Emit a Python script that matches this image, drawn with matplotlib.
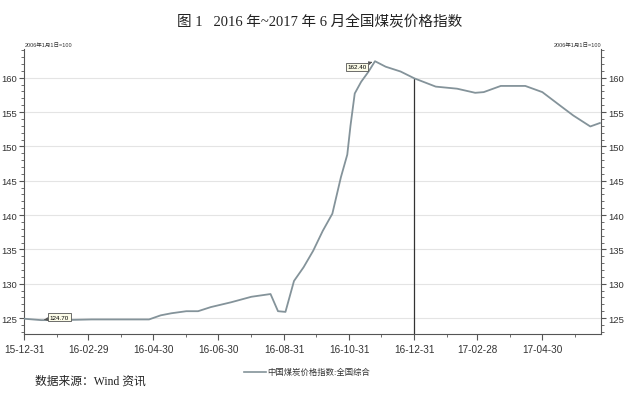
import matplotlib.pyplot as plt
import matplotlib.dates as mdates
from matplotlib.ticker import MultipleLocator
import pandas as pd

plt.rcParams['font.family'] = ['Liberation Sans', 'Noto Sans CJK SC']

# 中国煤炭价格指数:全国综合 (2006年1月1日=100), values
dates = ['2015-12-31', '2016-01-16', '2016-02-04', '2016-03-03', '2016-03-31',
         '2016-04-26', '2016-05-07', '2016-05-17', '2016-05-31', '2016-06-11',
         '2016-06-23', '2016-07-12', '2016-07-31', '2016-08-18', '2016-08-25',
         '2016-09-01', '2016-09-09', '2016-09-18', '2016-09-27', '2016-10-06',
         '2016-10-15', '2016-10-23', '2016-10-29', '2016-11-01', '2016-11-05',
         '2016-11-11', '2016-11-18', '2016-11-24', '2016-12-04', '2016-12-18',
         '2016-12-31', '2017-01-20', '2017-02-09', '2017-02-26', '2017-03-06',
         '2017-03-22', '2017-04-14', '2017-04-30', '2017-05-17', '2017-05-29',
         '2017-06-14', '2017-06-23']
index = [124.9, 124.7, 124.7, 124.8, 124.8,
         124.8, 125.4, 125.7, 126.0, 126.0,
         126.6, 127.3, 128.1, 128.5, 126.0,
         125.9, 130.4, 132.4, 134.8, 137.7,
         140.2, 145.5, 148.8, 153.0, 157.7,
         159.4, 160.9, 162.4, 161.6, 160.9,
         159.9, 158.7, 158.4, 157.8, 157.9,
         158.8, 158.8, 157.9, 155.9, 154.5,
         152.9, 153.4]
tick_dates = ['2015-12-31', '2016-02-29', '2016-04-30', '2016-06-30', '2016-08-31',
              '2016-10-31', '2016-12-31', '2017-02-28', '2017-04-30']

s = pd.Series(index, index=pd.to_datetime(dates))
ticks = pd.to_datetime(tick_dates)

fig = plt.figure(figsize=(6.4, 4.02), dpi=100)
ax = fig.add_axes([0.038, 0.167, 0.901, 0.709])

ax.plot(s.index, s.values, color='#84939a', lw=1.3, zorder=3)
ax.set_xlim(pd.Timestamp('2015-12-31'), pd.Timestamp('2017-06-24'))
ax.set_ylim(122.7, 164.2)

# marker line at year end
ax.vlines(pd.Timestamp('2016-12-31'), 122.7, s['2016-12-31'], color='#333333', lw=0.9, zorder=2)

ax.yaxis.set_major_locator(MultipleLocator(5))
ax.yaxis.set_minor_locator(MultipleLocator(1))
ax.set_xticks(ticks)
ax.xaxis.set_major_formatter(mdates.DateFormatter('%y-%m-%d'))
ax.xaxis.set_minor_locator(mdates.MonthLocator(bymonthday=-1))
ax.grid(axis='y', color='#e4e4e4', lw=0.8)

for side in ['left', 'right', 'bottom']:
    ax.spines[side].set_color('#555555')
    ax.spines[side].set_linewidth(0.8)
ax.spines['top'].set_visible(False)
ax.tick_params(axis='y', which='both', left=True, right=True, labelright=True,
               colors='#555555', labelcolor='#333333', labelsize=6.8, pad=1.5)
ax.tick_params(axis='y', which='major', length=3.5)
ax.tick_params(axis='y', which='minor', length=2)
ax.tick_params(axis='x', which='major', length=4, colors='#555555',
               labelcolor='#333333', labelsize=7.2)
ax.tick_params(axis='x', which='minor', length=2, colors='#555555')

# axis unit notes
ax.text(0.0, 1.005, '2006年1月1日=100', transform=ax.transAxes, fontsize=4,
        ha='left', va='bottom', color='#333333')
ax.text(1.0, 1.005, '2006年1月1日=100', transform=ax.transAxes, fontsize=4,
        ha='right', va='bottom', color='#333333')

# min / max labels
box = dict(boxstyle='square,pad=0.25', fc='#fbfbe8', ec='#555555', lw=0.6)
arrow = dict(arrowstyle='-|>', color='#555555', lw=0.6, mutation_scale=5)
lo = s.idxmin()
ax.annotate('124.70', xy=(lo, s[lo]), xytext=(6, 2), textcoords='offset points',
            fontsize=4.5, ha='left', va='center', bbox=box, arrowprops=arrow)
hi = s.idxmax()
ax.annotate('162.40', xy=(hi, s[hi]), xytext=(-6, -4), textcoords='offset points',
            fontsize=4.5, ha='right', va='center', bbox=box, arrowprops=arrow)

fig.text(0.5, 0.945, '图 1   2016 年~2017 年 6 月全国煤炭价格指数',
         ha='center', va='center', fontsize=10.5,
         family=['Liberation Serif', 'Noto Sans CJK SC'], color='#222222')

# legend under the axis
fig.lines.append(plt.Line2D([0.382, 0.415], [0.0725, 0.0725], transform=fig.transFigure,
                            color='#84939a', lw=1.2))
fig.text(0.418, 0.0725, '中国煤炭价格指数:全国综合', fontsize=6, ha='left', va='center',
         color='#333333')

fig.text(0.055, 0.05, '数据来源：Wind 资讯', fontsize=8.5, ha='left', va='center',
         family=['Liberation Serif', 'Noto Sans CJK SC'], color='#222222')

fig.savefig('out.png', dpi=100, facecolor='white')
